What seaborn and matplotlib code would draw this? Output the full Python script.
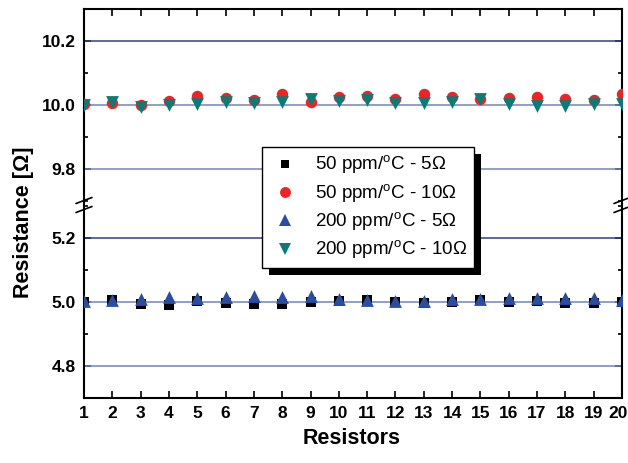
import numpy as np
import pandas as pd
import matplotlib
matplotlib.use("Agg")
import matplotlib.pyplot as plt
import seaborn as sns
from matplotlib.patches import Rectangle
from matplotlib.lines import Line2D
from matplotlib.ticker import MultipleLocator
from matplotlib.transforms import ScaledTranslation

# ---------------- data ----------------
resistors = list(range(1, 21))
r50_5 = [5.000, 5.006, 4.994, 4.991, 5.002, 4.996, 4.995, 4.995, 4.999, 5.002,
         5.005, 5.000, 4.997, 5.000, 5.005, 5.000, 5.003, 4.998, 4.997, 5.000]
r50_10 = [10.003, 10.005, 10.000, 10.012, 10.028, 10.023, 10.015, 10.034, 10.011, 10.026,
          10.028, 10.019, 10.036, 10.026, 10.020, 10.022, 10.025, 10.018, 10.016, 10.034]
r200_5 = [5.004, 5.005, 5.010, 5.015, 5.013, 5.015, 5.018, 5.014, 5.020, 5.010,
          5.007, 5.004, 5.004, 5.008, 5.008, 5.012, 5.012, 5.013, 5.013, 5.005]
r200_10 = [10.000, 10.010, 9.995, 10.000, 10.003, 10.010, 10.005, 10.008, 10.019, 10.014,
           10.016, 10.005, 10.005, 10.010, 10.020, 10.003, 9.998, 9.996, 10.003, 10.003]
labels = ["50 ppm/$^\\mathrm{o}$C - 5Ω", "50 ppm/$^\\mathrm{o}$C - 10Ω",
          "200 ppm/$^\\mathrm{o}$C - 5Ω", "200 ppm/$^\\mathrm{o}$C - 10Ω"]
colors = ["#000000", "#EE2326", "#2B4DA0", "#0E7A75"]
markers = ["s", "o", "^", "v"]
sizes = [45, 68, 85, 85]

sns.set_style("ticks")
plt.rcParams['font.family'] = ['Liberation Sans', 'DejaVu Sans']
plt.rcParams['mathtext.fontset'] = 'custom'
plt.rcParams['mathtext.rm'] = 'Liberation Sans'
for k in ['text.color', 'axes.labelcolor', 'xtick.color', 'ytick.color', 'axes.edgecolor']:
    plt.rcParams[k] = 'black'

fig = plt.figure(figsize=(6.28, 4.63), dpi=100)
gs = fig.add_gridspec(2, 1, height_ratios=[0.61, 0.605], hspace=0.0,
                      left=84/628, right=622/628, top=1-9/463, bottom=1-398/463)
ax_top = fig.add_subplot(gs[0])
ax_bot = fig.add_subplot(gs[1], sharex=ax_top)

for ax, idxs, ys in [(ax_bot, [0, 2], [r50_5, r200_5]), (ax_top, [1, 3], [r50_10, r200_10])]:
    for i, y in zip(idxs, ys):
        sns.scatterplot(x=resistors, y=y, ax=ax, color=colors[i], marker=markers[i],
                        s=sizes[i], linewidth=0, zorder=3, legend=False)

ax_top.set_ylim(9.69, 10.3)
ax_bot.set_ylim(4.7, 5.305)
ax_top.set_xlim(1, 20)
ax_bot.set_xticks(resistors)

TICK_FS = 12.5
for ax, majors in [(ax_top, [9.8, 10.0, 10.2]), (ax_bot, [4.8, 5.0, 5.2])]:
    ax.set_yticks(majors)
    ax.yaxis.set_minor_locator(MultipleLocator(0.1))
    ax.tick_params(axis='y', which='both', direction='in', left=True, right=True,
                   width=1.2, labelsize=TICK_FS, pad=6, colors='black')
    ax.tick_params(axis='y', which='major', length=5)
    ax.tick_params(axis='y', which='minor', length=3)
    ax.tick_params(axis='x', which='major', direction='in', length=5, width=1.2,
                   top=True, bottom=True, labelsize=TICK_FS, pad=6, colors='black')
    for j, m in enumerate(majors):
        c = "#2E3D8F" if j == 2 else "#7284C4"
        ax.axhline(m, color=c, lw=1.1, zorder=1)
    for sp in ax.spines.values():
        sp.set_linewidth(1.5)
        sp.set_color('black')
    ax.set_ylabel("")
    ax.set_xlabel("")

ax_top.spines['bottom'].set_visible(False)
ax_bot.spines['top'].set_visible(False)
ax_top.tick_params(axis='x', which='both', bottom=False, labelbottom=False)
ax_bot.tick_params(axis='x', which='both', top=False)
ax_bot.set_yticklabels(["4.8", "5.0", "5.2"])
ax_top.set_yticklabels(["9.8", "10.0", "10.2"])
for ax in (ax_top, ax_bot):
    for lab in ax.get_yticklabels() + ax.get_xticklabels():
        lab.set_fontweight('bold')
last = ax_bot.get_xticklabels()[-1]
last.set_transform(last.get_transform() + ScaledTranslation(-4/100, 0, fig.dpi_scale_trans))

# break marks
ybreak = 1 - 205/463
for xb in (84/628, 622/628):
    for dy in (-4.5, 4.5):
        yc = ybreak + dy/463
        fig.add_artist(Line2D([xb - 8/628, xb + 8/628], [yc - 3/463, yc + 3/463],
                              color='black', lw=1.2, zorder=10))

fig.text(0.037, 0.52, "Resistance [Ω]", rotation=90, ha='center', va='center',
         fontsize=15.5, fontweight='bold')
fig.text(352/628, 1-438/463, "Resistors", ha='center', va='center',
         fontsize=15.5, fontweight='bold')

handles = [Line2D([], [], ls='none', marker=markers[i], color=colors[i],
                  markersize=np.sqrt(sizes[i]) * 0.95, markeredgewidth=0) for i in range(4)]
leg = fig.legend(handles, labels, loc='upper left', bbox_to_anchor=(262/628, 1-147/463),
                 frameon=True, fancybox=False, fontsize=13.5, borderaxespad=0,
                 handletextpad=0.7, labelspacing=0.3, borderpad=0.35, handlelength=1.8)
leg.get_frame().set_edgecolor('black')
leg.get_frame().set_linewidth(1.0)
leg.get_frame().set_alpha(1)
leg.set_zorder(6)

fig.canvas.draw()
bb = leg.get_window_extent()
shadow = Rectangle((bb.x0 + 7, bb.y0 - 7), bb.width, bb.height, transform=None,
                   facecolor='black', edgecolor='none', zorder=5)
fig.add_artist(shadow)

fig.savefig("out.png", dpi=100)
